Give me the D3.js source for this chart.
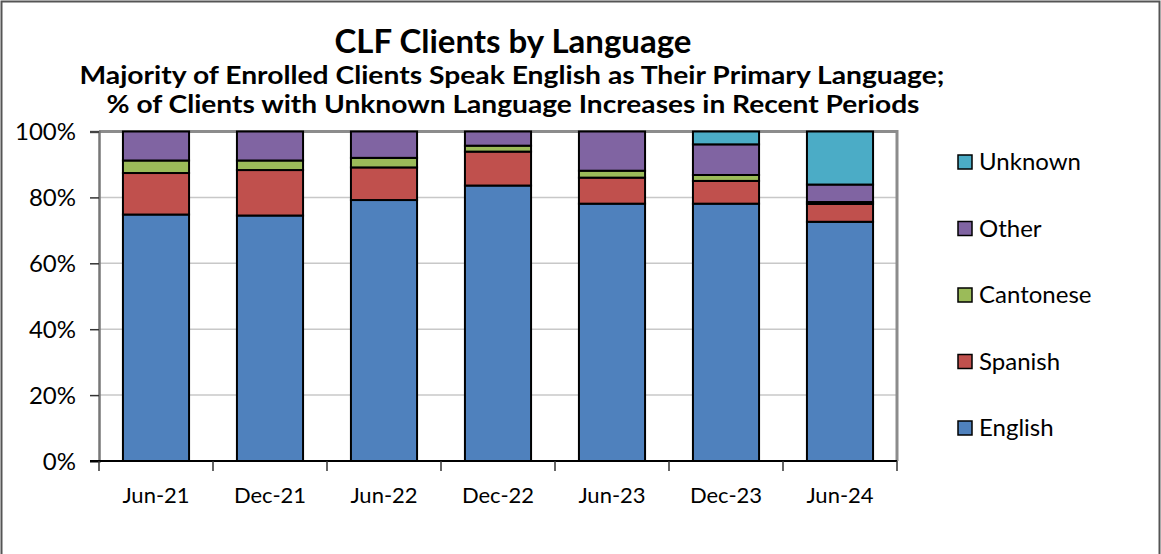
<!DOCTYPE html>
<html>
<head>
<meta charset="utf-8">
<script src="https://cdn.jsdelivr.net/npm/d3@7"></script>
<style>
  body { margin: 0; background: #fff; }
  text { font-family: Lato, "Open Sans", sans-serif; fill: #000; }
</style>
</head>
<body>
<svg width="1161" height="554"></svg>
<script>
// data (percent of clients)
var periods = ["Jun-21", "Dec-21", "Jun-22", "Dec-22", "Jun-23", "Dec-23", "Jun-24"];
var english   = [74.8, 74.5, 79.2, 83.6, 78.1, 78.1, 72.6];
var spanish   = [12.6, 13.8,  9.9, 10.3,  7.9,  6.9,  5.4];
var cantonese = [ 3.8,  2.9,  2.9,  1.8,  2.1,  1.8,  0.6];
var other     = [ 8.8,  8.8,  8.0,  4.3, 11.9,  9.3,  5.3];
var unknown   = [ 0.0,  0.0,  0.0,  0.0,  0.0,  3.9, 16.1];
var yTicks = [0, 20, 40, 60, 80, 100];

var seriesNames = ["English", "Spanish", "Cantonese", "Other", "Unknown"];
var seriesColors = ["#4F81BD", "#C0504D", "#9BBB59", "#8064A2", "#4BACC6"];

var table = periods.map(function (p, i) {
    return { period: p, English: english[i], Spanish: spanish[i], Cantonese: cantonese[i],
             Other: other[i], Unknown: unknown[i] };
});

var svg = d3.select("svg");

// outer frame
svg.append("rect").attr("x", 1.5).attr("y", 1.5).attr("width", 1158).attr("height", 560)
    .attr("fill", "none").attr("stroke", "#555").attr("stroke-width", 2);

var plotLeft = 99, plotRight = 897, plotTop = 131.5, plotBottom = 461;

var xScale = d3.scaleBand().domain(periods).range([plotLeft, plotRight]).paddingInner(0.42).paddingOuter(0.21);
var yScale = d3.scaleLinear().domain([0, 100]).range([plotBottom, plotTop]);

// gridlines
svg.append("g").selectAll("line").data(yTicks.slice(1, 5)).enter().append("line")
    .attr("x1", plotLeft).attr("x2", plotRight)
    .attr("y1", function (d) { return yScale(d); }).attr("y2", function (d) { return yScale(d); })
    .attr("stroke", "#c8c8c8").attr("stroke-width", 1.5);

// plot area border (top and right)
svg.append("path").attr("d", "M" + plotLeft + "," + plotTop + "H" + plotRight + "V" + plotBottom)
    .attr("fill", "none").attr("stroke", "#8c8c8c").attr("stroke-width", 3);

// stacked bars
var stack = d3.stack().keys(seriesNames);
var layers = stack(table);
svg.append("g").selectAll("g").data(layers).enter().append("g")
    .attr("fill", function (d, i) { return seriesColors[i]; })
    .selectAll("rect").data(function (d) { return d.filter(function (s) { return s[1] - s[0] > 0; }); })
    .enter().append("rect")
    .attr("x", function (d) { return xScale(d.data.period); })
    .attr("width", xScale.bandwidth())
    .attr("y", function (d) { return yScale(d[1]); })
    .attr("height", function (d) { return yScale(d[0]) - yScale(d[1]); })
    .attr("stroke", "#000").attr("stroke-width", 2);

// y axis
var yAxis = d3.axisLeft(yScale).tickValues(yTicks).tickSize(9).tickPadding(14)
    .tickFormat(function (d) { return d + "%"; });
var yG = svg.append("g").attr("transform", "translate(" + plotLeft + ",0)").call(yAxis);
yG.select(".domain").attr("stroke", "#777").attr("stroke-width", 2.5);
yG.selectAll(".tick line").attr("stroke", "#333").attr("stroke-width", 1.5);
yG.selectAll("text").style("font-size", "24px").style("font-family", "Lato, sans-serif")
    .attr("fill", "#000").attr("dy", "0.35em");

// x axis: ticks at category boundaries
var xG = svg.append("g").attr("transform", "translate(0," + plotBottom + ")");
xG.append("line").attr("x1", plotLeft - 9).attr("x2", plotRight).attr("stroke", "#000").attr("stroke-width", 2);
var step = xScale.step();
xG.selectAll(".bt").data(d3.range(periods.length + 1)).enter().append("line")
    .attr("x1", function (i) { return plotLeft + i * step; }).attr("x2", function (i) { return plotLeft + i * step; })
    .attr("y1", 0).attr("y2", 10).attr("stroke", "#333").attr("stroke-width", 1.5);
xG.selectAll("text").data(periods).enter().append("text")
    .attr("x", function (d) { return xScale(d) + xScale.bandwidth() / 2; })
    .attr("y", 42).attr("text-anchor", "middle").style("font-size", "22px")
    .text(function (d) { return d; });

// titles
svg.append("text").attr("x", 513).attr("y", 53).attr("text-anchor", "middle")
    .style("font-size", "33px").style("font-weight", "bold").text("CLF Clients by Language");
svg.append("text").attr("x", 512).attr("y", 84).attr("text-anchor", "middle")
    .style("font-size", "25px").style("font-weight", "bold")
    .attr("textLength", 865).attr("lengthAdjust", "spacingAndGlyphs")
    .text("Majority of Enrolled Clients Speak English as Their Primary Language;");
svg.append("text").attr("x", 513).attr("y", 113).attr("text-anchor", "middle")
    .style("font-size", "25px").style("font-weight", "bold")
    .attr("textLength", 813).attr("lengthAdjust", "spacingAndGlyphs")
    .text("% of Clients with Unknown Language Increases in Recent Periods");

// legend, top to bottom reversed order
var legendY = d3.scalePoint().domain(seriesNames.slice().reverse()).range([162, 428]);
var lg = svg.append("g").selectAll("g").data(seriesNames).enter().append("g")
    .attr("transform", function (d) { return "translate(958," + legendY(d) + ")"; });
lg.append("rect").attr("x", 0).attr("y", -7).attr("width", 14).attr("height", 14)
    .attr("fill", function (d, i) { return seriesColors[i]; })
    .attr("stroke", "#000").attr("stroke-width", 1.5);
lg.append("text").attr("x", 21).attr("y", 0).attr("dy", "0.35em")
    .style("font-size", "24px").text(function (d) { return d; });
</script>
</body>
</html>
